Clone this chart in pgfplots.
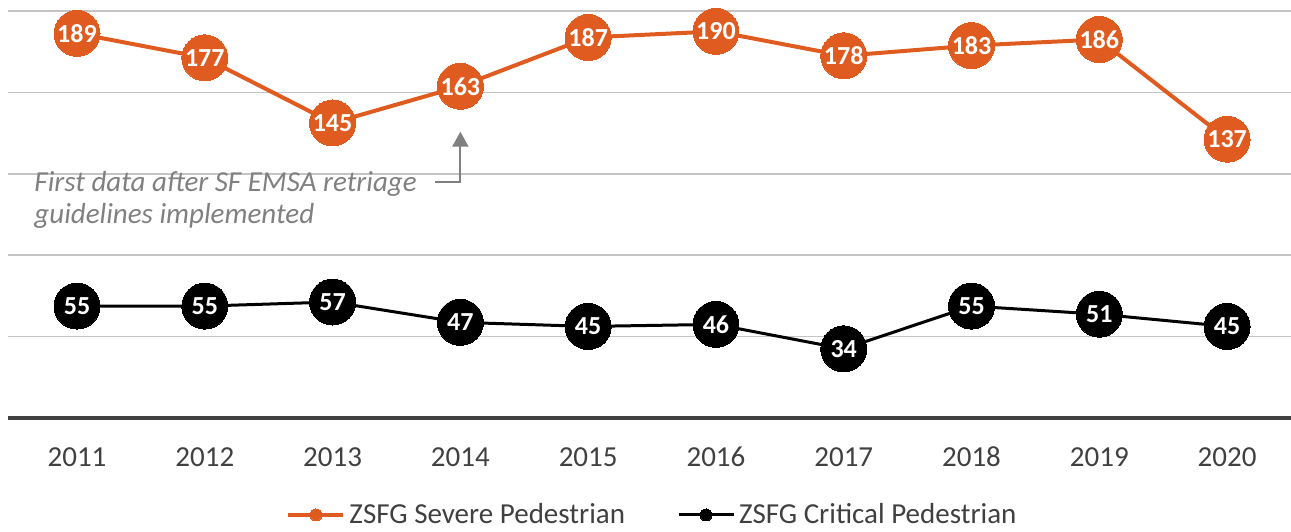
\documentclass[border=0pt]{standalone}
\usepackage{fontspec}
\setmainfont{Carlito}
\usepackage{pgfplots}
\pgfplotsset{compat=1.18}
\usetikzlibrary{arrows.meta}
\definecolor{sev}{HTML}{E05B1F}
\definecolor{crit}{HTML}{000000}
\definecolor{gridc}{HTML}{C4C4C4}
\definecolor{axc}{HTML}{404040}
\definecolor{txt}{HTML}{404040}
\definecolor{ann}{HTML}{808080}
\begin{document}
\begin{tikzpicture}
\useasboundingbox (-4pt,-56.5pt) rectangle (641.5pt,209pt);
\begin{axis}[
  at={(0,0)}, anchor=south west,
  width=641.5pt, height=203.5pt, scale only axis,
  xmin=2010.46, xmax=2020.5, ymin=0, ymax=200,
  clip=false,
  axis line style={draw=none},
  xtick={2011,2012,2013,2014,2015,2016,2017,2018,2019,2020},
  xticklabels={2011,2012,2013,2014,2015,2016,2017,2018,2019,2020},
  ytick={40,80,120,160,200},
  yticklabels={},
  major tick length=0pt,
  ymajorgrids, grid style={gridc, line width=0.75pt},
  xticklabel style={anchor=base, yshift=-24pt, font=\fontsize{14.5}{17}\selectfont, text=txt},
  /pgf/number format/assume math mode=true,
  legend columns=2,
  legend style={at={(0.5031,-0.2383)}, anchor=center, draw=none, fill=none,
    font=\fontsize{14.5}{17}\selectfont, text=txt,
    /tikz/every even column/.append style={column sep=24pt}},
  legend image code/.code={\draw[mark repeat=2,mark phase=2,#1,mark size=3pt] plot coordinates {(0pt,0pt) (13.75pt,0pt) (27.5pt,0pt)};},
  nodes near coords,
  every node near coord/.append style={anchor=center, text=white, font=\bfseries\fontsize{13}{13}\selectfont},
]
\draw[axc, line width=2pt] (rel axis cs:0,0) -- (rel axis cs:1,0);
\addplot[sev, line width=2pt, mark=*, mark size=11.5pt, mark options={solid, fill=sev, draw=sev, line width=0pt}] coordinates {
(2011,189) (2012,177) (2013,145) (2014,163) (2015,187) (2016,190) (2017,178) (2018,183) (2019,186) (2020,137)};
\addlegendentry{ZSFG Severe Pedestrian}
\addplot[crit, line width=1.5pt, mark=*, mark size=11.5pt, mark options={solid, fill=crit, draw=crit, line width=0pt}] coordinates {
(2011,55) (2012,55) (2013,57) (2014,47) (2015,45) (2016,46) (2017,34) (2018,55) (2019,51) (2020,45)};
\addlegendentry{ZSFG Critical Pedestrian}
\node[anchor=base west, font=\itshape\fontsize{14.5}{17}\selectfont, text=ann, inner sep=0pt] at (axis cs:2010.664,111.2) {First data after SF EMSA retriage};
\node[anchor=base west, font=\itshape\fontsize{14.5}{17}\selectfont, text=ann, inner sep=0pt] at (axis cs:2010.664,95.7) {guidelines implemented};
\draw[ann, line width=1pt, -{Triangle[length=7.5pt,width=8pt]}] (axis cs:2013.80,116.1) -- (axis cs:2014,116.1) -- (axis cs:2014,140.7);
\end{axis}
\end{tikzpicture}
\end{document}
